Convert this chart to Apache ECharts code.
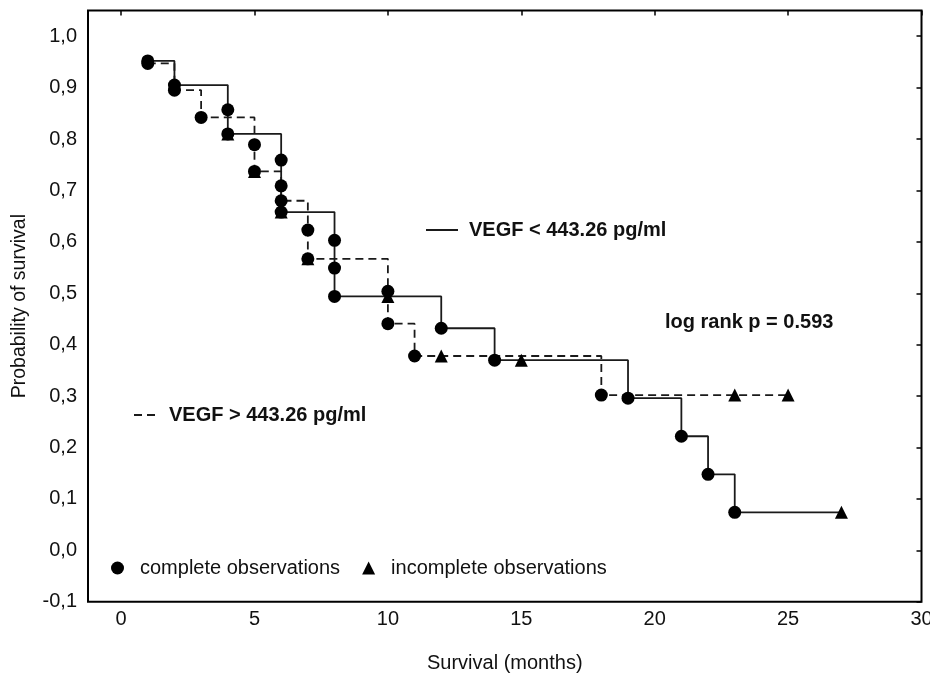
<!DOCTYPE html>
<html>
<head>
<meta charset="utf-8">
<script src="https://cdn.jsdelivr.net/npm/echarts@6/dist/echarts.min.js"></script>
<style>
html,body{margin:0;padding:0;background:#fff;}
#chart{width:930px;height:676px;}
</style>
</head>
<body>
<div id="chart"></div>
<script>
// ---- data ----
const lowTimes   = [1, 2, 4, 4, 6, 6, 6, 8, 8, 8, 12, 14, 19, 21, 22, 23, 27];
const lowSurv    = [0.952, 0.905, 0.857, 0.810, 0.759, 0.709, 0.658, 0.603, 0.549, 0.494, 0.432, 0.370, 0.296, 0.222, 0.148, 0.074, 0.074];
const highTimes  = [1, 2, 3, 5, 5, 6, 7, 7, 10, 10, 11, 18, 25];
const highSurv   = [0.947, 0.895, 0.842, 0.789, 0.737, 0.680, 0.623, 0.567, 0.504, 0.441, 0.378, 0.302, 0.302];

const completeTimes = [1, 2, 4, 4, 6, 6, 6, 8, 8, 8, 12, 14, 19, 21, 22, 23,
                       1, 2, 3, 5, 5, 6, 7, 7, 10, 10, 11, 18];
const completeSurv  = [0.952, 0.905, 0.857, 0.810, 0.759, 0.709, 0.658, 0.603, 0.549, 0.494, 0.432, 0.370, 0.296, 0.222, 0.148, 0.074,
                       0.947, 0.895, 0.842, 0.789, 0.737, 0.680, 0.623, 0.567, 0.504, 0.441, 0.378, 0.302];
const censorTimes = [4, 6, 10, 15, 27, 5, 7, 12, 23, 25];
const censorSurv  = [0.810, 0.658, 0.494, 0.370, 0.074, 0.737, 0.567, 0.378, 0.302, 0.302];

const xTicks = [0, 5, 10, 15, 20, 25, 30];
const yTicks = [-0.1, 0.0, 0.1, 0.2, 0.3, 0.4, 0.5, 0.6, 0.7, 0.8, 0.9, 1.0];

const lowName = 'VEGF < 443.26 pg/ml';
const highName = 'VEGF > 443.26 pg/ml';
const completeName = 'complete observations';
const incompleteName = 'incomplete observations';
const xTitle = 'Survival (months)';
const yTitle = 'Probability of survival';
const pText = 'log rank p = 0.593';

// ---- build ----
const zip = (a, b) => a.map((v, i) => [v, b[i]]);
const FONT = '"Liberation Sans", Arial, sans-serif';
const INK = '#111';

const chart = echarts.init(document.getElementById('chart'), null, {renderer: 'canvas'});

const xBase = {type: 'value', min: -1.24, max: 30, splitLine: {show: false}, axisLine: {show: false, onZero: false}};
const yBase = {type: 'value', min: -0.1, max: 1.05, splitLine: {show: false}, axisLine: {show: false, onZero: false}};
const hiddenIcon = {color: 'rgba(0,0,0,0)', borderColor: 'rgba(0,0,0,0)', borderWidth: 0};

chart.setOption({
  animation: false,
  backgroundColor: '#fff',
  textStyle: {fontFamily: FONT},
  title: {
    text: pText, left: 660, top: 307,
    textStyle: {fontFamily: FONT, fontSize: 20, fontWeight: 'bold', color: INK}
  },
  grid: {left: 88, right: 8.5, top: 10.5, bottom: 74.2, show: true, borderColor: '#000', borderWidth: 2,
         containLabel: false, outerBoundsMode: 'none'},
  legend: [
    {
      left: 420, top: 215, orient: 'horizontal',
      itemWidth: 32, itemHeight: 22,
      data: [{name: lowName}],
      itemStyle: hiddenIcon,
      textStyle: {fontFamily: FONT, fontSize: 20, fontWeight: 'bold', color: INK, padding: [0, 0, 0, 6]},
      selectedMode: false
    },
    {
      left: 128, top: 400, orient: 'horizontal',
      itemWidth: 21, itemHeight: 22,
      data: [{name: highName}],
      itemStyle: hiddenIcon,
      textStyle: {fontFamily: FONT, fontSize: 20, fontWeight: 'bold', color: INK, padding: [0, 0, 0, 9]},
      selectedMode: false
    },
    {
      left: 106, top: 553, orient: 'horizontal',
      itemWidth: 13, itemHeight: 13, itemGap: 22,
      data: [{name: completeName, icon: 'circle'}, {name: incompleteName, icon: 'triangle'}],
      textStyle: {fontFamily: FONT, fontSize: 20, color: INK, padding: [0, 0, 0, 11]},
      selectedMode: false
    }
  ],
  xAxis: [
    Object.assign({}, xBase, {
      position: 'bottom',
      name: xTitle, nameLocation: 'middle', nameGap: 52,
      nameTextStyle: {fontFamily: FONT, fontSize: 20, color: INK},
      axisTick: {show: false},
      axisLabel: {customValues: xTicks, fontFamily: FONT, fontSize: 20, color: INK, margin: 8, showMaxLabel: true}
    }),
    Object.assign({}, xBase, {
      position: 'top',
      axisTick: {show: true, inside: true, length: 5, customValues: xTicks, lineStyle: {color: '#000', width: 1.5}},
      axisLabel: {show: false}
    })
  ],
  yAxis: [
    Object.assign({}, yBase, {
      position: 'left',
      name: yTitle, nameLocation: 'middle', nameGap: 58,
      nameTextStyle: {fontFamily: FONT, fontSize: 19.5, color: INK},
      axisTick: {show: false},
      axisLabel: {
        customValues: yTicks, fontFamily: FONT, fontSize: 20, color: INK, margin: 11,
        formatter: v => v.toFixed(1).replace('.', ',')
      }
    }),
    Object.assign({}, yBase, {
      position: 'right',
      axisTick: {show: true, inside: true, length: 5, customValues: yTicks, lineStyle: {color: '#000', width: 1.5}},
      axisLabel: {show: false}
    })
  ],
  series: [
    {
      name: lowName, type: 'line', step: 'end', xAxisIndex: 0, yAxisIndex: 0,
      data: zip(lowTimes, lowSurv), symbol: 'none', showSymbol: false,
      lineStyle: {color: '#1a1a1a', width: 1.8, type: 'solid'}, itemStyle: {color: '#1a1a1a'}, z: 2
    },
    {
      name: highName, type: 'line', step: 'end', xAxisIndex: 0, yAxisIndex: 0,
      data: zip(highTimes, highSurv), symbol: 'none', showSymbol: false,
      lineStyle: {color: '#1a1a1a', width: 1.8, type: [8, 5]}, itemStyle: {color: '#1a1a1a'}, z: 2
    },
    {
      name: completeName, type: 'scatter', xAxisIndex: 0, yAxisIndex: 0,
      data: zip(completeTimes, completeSurv), symbol: 'circle', symbolSize: 13,
      itemStyle: {color: '#000', opacity: 1}, z: 4
    },
    {
      name: incompleteName, type: 'scatter', xAxisIndex: 0, yAxisIndex: 0,
      data: zip(censorTimes, censorSurv), symbol: 'triangle', symbolSize: 13,
      itemStyle: {color: '#000', opacity: 1}, z: 5
    }
  ]
});
</script>
</body>
</html>
